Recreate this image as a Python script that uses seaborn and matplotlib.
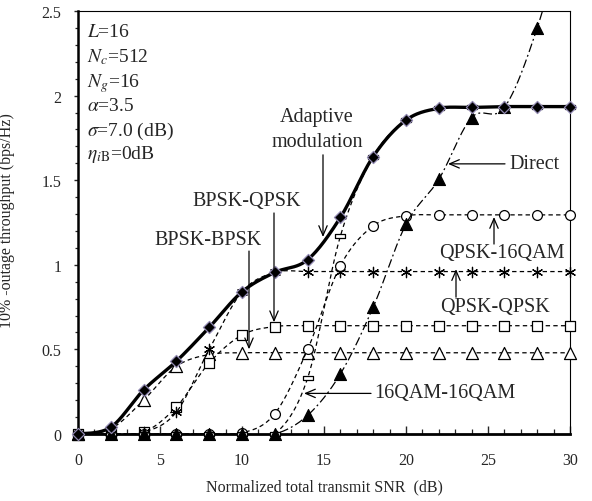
import numpy as np
import matplotlib
matplotlib.use("Agg")
import matplotlib.pyplot as plt
from matplotlib.path import Path
from matplotlib.ticker import MultipleLocator
import seaborn as sns

# ---------------- data ----------------
snr = [0, 2, 4, 6, 8, 10, 12, 14, 16, 18, 20, 22, 24, 26, 28, 30]
adaptive = [0, 0.04, 0.26, 0.43, 0.63, 0.84, 0.955, 1.03, 1.28, 1.64, 1.855, 1.925, 1.93, 1.935, 1.935, 1.935]
bpsk_bpsk = [0, 0.03, 0.20, 0.40, 0.47, 0.48, 0.48, 0.48, 0.48, 0.48, 0.48, 0.48, 0.48, 0.48, 0.48, 0.48]
bpsk_qpsk = [0, 0, 0.01, 0.16, 0.42, 0.585, 0.635, 0.64, 0.64, 0.64, 0.64, 0.64, 0.64, 0.64, 0.64, 0.64]
qpsk_qpsk = [0, 0, 0.01, 0.13, 0.50, 0.84, 0.955, 0.96, 0.96, 0.96, 0.96, 0.96, 0.96, 0.96, 0.96, 0.96]
qpsk_16qam = [0, 0, 0, 0, 0, 0.005, 0.12, 0.50, 0.995, 1.23, 1.29, 1.295, 1.295, 1.295, 1.295, 1.295]
qam_qam = [0, 0, 0, 0, 0, 0, 0, 0.33, 1.17, 1.64, 1.855, 1.925, 1.93, 1.935, 1.935, 1.935]
direct = [0, 0, 0, 0, 0, 0, 0, 0.11, 0.355, 0.75, 1.24, 1.505, 1.87, 1.93, 2.40, 3.1]

params = ["$L$=16", "$N_c$=512", "$N_g$=16", r"$\alpha$=3.5", r"$\sigma$=7.0 (dB)", r"$\eta_{i\mathrm{B}}$=0dB"]
xlabel = "Normalized total transmit SNR  (dB)"
ylabel = "10% -outage throughput (bps/Hz)"

YMAX = 2.5

# ---------------- style ----------------
sns.set_style("ticks")
plt.rcParams["font.family"] = ["Liberation Serif", "DejaVu Serif"]
plt.rcParams["mathtext.fontset"] = "stix"

fig = plt.figure(figsize=(5.92, 5.02), dpi=100)
ax = fig.add_axes([78 / 592, 1 - 435 / 502, 492 / 592, 423 / 502])


def smooth(xs, ys, n=24):
    P = np.column_stack([xs, ys]).astype(float)
    E = np.vstack([P[0], P, P[-1]])
    out = []
    m = len(P)
    for i in range(m - 1):
        p0, p1, p2, p3 = E[i], E[i + 1], E[i + 2], E[i + 3]
        c1 = p1 + (p2 - p0) / 6
        c2 = p2 - (p3 - p1) / 6
        t = np.linspace(0, 1, n, endpoint=(i == m - 2))[:, None]
        B = (1 - t) ** 3 * p1 + 3 * (1 - t) ** 2 * t * c1 + 3 * (1 - t) * t ** 2 * c2 + t ** 3 * p2
        out.append(B)
    S = np.vstack(out)
    return S[:, 0], S[:, 1]


def visible(xs, ys):
    xs = np.asarray(xs, float)
    ys = np.asarray(ys, float)
    k = ys <= YMAX
    return xs[k], ys[k]


rect = Path([(-1, -0.42), (1, -0.42), (1, 0.42), (-1, 0.42), (-1, -0.42)],
            [Path.MOVETO, Path.LINETO, Path.LINETO, Path.LINETO, Path.CLOSEPOLY])

dash = (0, (3.5, 2.6))
series = [
    (bpsk_bpsk, dash, "^", 75, "white"),
    (bpsk_qpsk, dash, "s", 50, "white"),
    (qpsk_qpsk, dash, (6, 2, 0), 55, None),
    (qpsk_16qam, dash, "o", 50, "white"),
    (qam_qam, dash, rect, 45, "white"),
]
z = 3
for ys, ls, mk, s, fc in series:
    sx, sy = smooth(snr, ys)
    sns.lineplot(x=sx, y=sy, sort=False, estimator=None, ax=ax, color="black",
                 lw=0.9, linestyle=ls, zorder=z)
    mx, my = visible(snr, ys)
    if fc is None:
        sns.scatterplot(x=mx, y=my, ax=ax, marker=mk, s=s, color="black",
                        linewidth=0.9, zorder=z + 0.5, clip_on=False)
    else:
        sns.scatterplot(x=mx, y=my, ax=ax, marker=mk, s=s, facecolor=fc,
                        edgecolor="black", linewidth=0.9, zorder=z + 0.5, clip_on=False)
    z += 1

# Direct
sx, sy = smooth(snr, direct)
sns.lineplot(x=sx, y=sy, sort=False, estimator=None, ax=ax, color="black",
             lw=0.9, linestyle=(0, (7, 2.5, 1.5, 2.5)), zorder=z)
mx, my = visible(snr, direct)
sns.scatterplot(x=mx, y=my, ax=ax, marker="^", s=75, color="black",
                edgecolor="black", linewidth=0.8, zorder=z + 0.5, clip_on=False)
z += 1

# Adaptive modulation
sx, sy = smooth(snr, adaptive)
sns.lineplot(x=sx, y=sy, sort=False, estimator=None, ax=ax, color="black",
             lw=2.4, zorder=z)
sns.scatterplot(x=snr, y=adaptive, ax=ax, marker="D", s=38, color="black",
                edgecolor="#9088b0", linewidth=0.9, zorder=z + 0.5, clip_on=False)
z += 1

ax.set_xlim(0, 30)
ax.set_ylim(0, YMAX)
ax.xaxis.set_major_locator(MultipleLocator(5))
ax.xaxis.set_minor_locator(MultipleLocator(1))
ax.yaxis.set_major_locator(MultipleLocator(0.5))
ax.yaxis.set_minor_locator(MultipleLocator(0.1))
ax.set_yticks([0, 0.5, 1, 1.5, 2, 2.5])
ax.set_yticklabels(["0", "0.5", "1", "1.5", "2", "2.5"])
ax.tick_params(axis="x", which="major", direction="in", length=6, width=1.0, pad=13, labelsize=11.5)
ax.tick_params(axis="x", which="minor", direction="in", length=3.5, width=0.9)
ax.tick_params(axis="y", which="major", direction="out", length=3, width=1.0, pad=9, labelsize=11.5)
ax.tick_params(axis="y", which="minor", direction="out", length=2, width=0.9)
for side, w in [("left", 1.8), ("bottom", 2.0), ("top", 0.8), ("right", 0.8)]:
    ax.spines[side].set_visible(True)
    ax.spines[side].set_linewidth(w)
    ax.spines[side].set_color("black")
    ax.spines[side].set_zorder(2.5)

ax.set_xlabel(xlabel, fontsize=11.5)
ax.set_ylabel(ylabel, fontsize=11.5)
ax.xaxis.set_label_coords(0.5, -0.105)
ax.yaxis.set_label_coords(-0.128, 0.506)


def px(x):
    return (x - 78) / 16.4


def py(y):
    return (434.5 - y) / 168.8


# parameter block
base = [37, 62.5, 87.5, 111.5, 136.5, 159]
for t, b in zip(params, base):
    ax.text(px(87), py(b), t, fontsize=14, ha="left", va="baseline", zorder=20)

arrow = dict(arrowstyle="->,head_length=0.7,head_width=0.3", lw=0.9, color="black",
             shrinkA=0, shrinkB=0)
fs = 14.5


def note(txt, tx, ty, a0, a1, ha="center"):
    ax.text(px(tx), py(ty), txt, fontsize=fs, ha=ha, va="center", zorder=20)
    ax.annotate("", xy=(px(a1[0]), py(a1[1])), xytext=(px(a0[0]), py(a0[1])),
                arrowprops=arrow, zorder=20)


ax.text(px(317), py(118), "Adaptive", fontsize=fs, ha="center", va="center", zorder=20)
ax.text(px(317), py(143), "modulation", fontsize=fs, ha="center", va="center", zorder=20)
ax.annotate("", xy=(px(323), py(238)), xytext=(px(323), py(156)), arrowprops=arrow, zorder=20)

note("BPSK-QPSK", 247, 202, (274, 214), (274, 323))
note("BPSK-BPSK", 208, 240, (249, 252), (249, 350))
note("Direct", 509, 165, (505, 165), (448, 165), ha="left")
note("QPSK-16QAM", 502, 253, (494, 245), (494, 218))
note("QPSK-QPSK", 495, 307, (456, 298), (456, 270))
note("16QAM-16QAM", 374, 393, (371, 394), (304, 394), ha="left")

fig.savefig("out.png", dpi=100)
